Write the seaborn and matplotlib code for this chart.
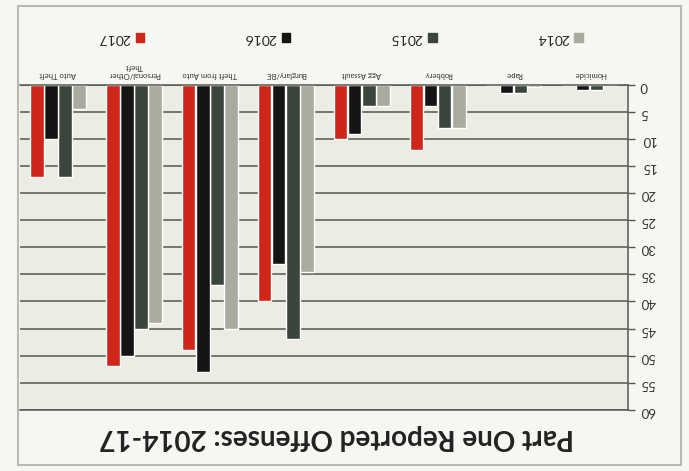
import matplotlib
matplotlib.use("Agg")
import matplotlib.pyplot as plt
import pandas as pd
import seaborn as sns
from matplotlib.patches import Rectangle, Patch

# Data
categories = ["Homicide", "Rape", "Robbery", "Agg Assault", "Burglary/BE",
              "Theft from Auto", "Personal/Other\nTheft", "Auto Theft"]
years = ["2014", "2015", "2016", "2017"]
v2014 = [0, 0.5, 8, 4, 34.5, 45, 44, 4.5]
v2015 = [1, 1.5, 8, 4, 47, 37, 45, 17]
v2016 = [1, 1.5, 4, 9, 33, 53, 50, 10]
v2017 = [0, 0, 12, 10, 40, 49, 52, 17]
y_ticks = list(range(0, 65, 5))
colors = ["#a9ab9f", "#3a463c", "#141414", "#d0261a"]

df = pd.DataFrame({
    "Offense": categories * 4,
    "Year": [y for y in years for _ in categories],
    "Count": v2014 + v2015 + v2016 + v2017,
})

sns.set_style("white")
plt.rcParams["font.family"] = ["Lato", "DejaVu Sans"]

fig = plt.figure(figsize=(6.89, 4.71), dpi=100)
fig.patch.set_facecolor("#f6f6f3")
ax = fig.add_axes([0.029, 0.13, 0.882, 0.69])
ax.set_facecolor("#ecece4")

sns.barplot(data=df, x="Offense", y="Count", hue="Year", hue_order=years,
            palette=colors, width=0.74, gap=0.05, saturation=1,
            ax=ax, legend=False)

# the photo is turned 180 degrees, so flip both axes
ax.set_xlim(7.5, -0.5)
ax.set_ylim(60, 0)
ax.set_yticks(y_ticks)
ax.yaxis.tick_right()
ax.xaxis.tick_top()
ax.set_xlabel("")
ax.set_ylabel("")
ax.grid(axis="y", color="#55574f", lw=1.1)
ax.set_axisbelow(True)

for lab in ax.get_yticklabels():
    lab.set_rotation(180)
    lab.set_fontsize(9.5)
    lab.set_color("#333333")
for lab in ax.get_xticklabels():
    lab.set_rotation(180)
    lab.set_fontsize(5.5)
    lab.set_color("#333333")
ax.tick_params(axis="y", right=True, length=5, width=1, color="#55574f", pad=4)
ax.tick_params(axis="x", top=False, length=0, pad=5)

ax.spines["left"].set_visible(False)
for s in ["right", "top", "bottom"]:
    ax.spines[s].set_color("#55574f")
    ax.spines[s].set_linewidth(1.1)

# legend (upside down too)
handles = [Patch(color=c, label=y) for y, c in zip(years, colors)][::-1]
leg = fig.legend(handles=handles, loc="center", bbox_to_anchor=(0.494, 0.919),
                 ncol=4, frameon=False, markerfirst=False, fontsize=10,
                 handlelength=0.6, handleheight=0.6, handletextpad=0.4,
                 columnspacing=7.2)
for t in leg.get_texts():
    t.set_rotation(180)

fig.text(0.489, 0.072, "Part One Reported Offenses: 2014-17", rotation=180,
         ha="center", va="center", fontsize=20, fontweight="bold", color="#222222")

fig.add_artist(Rectangle((0.026, 0.013), 0.962, 0.975, transform=fig.transFigure,
                         fill=False, ec="#b9b9b3", lw=1.5))

fig.savefig("out.png", dpi=100)
